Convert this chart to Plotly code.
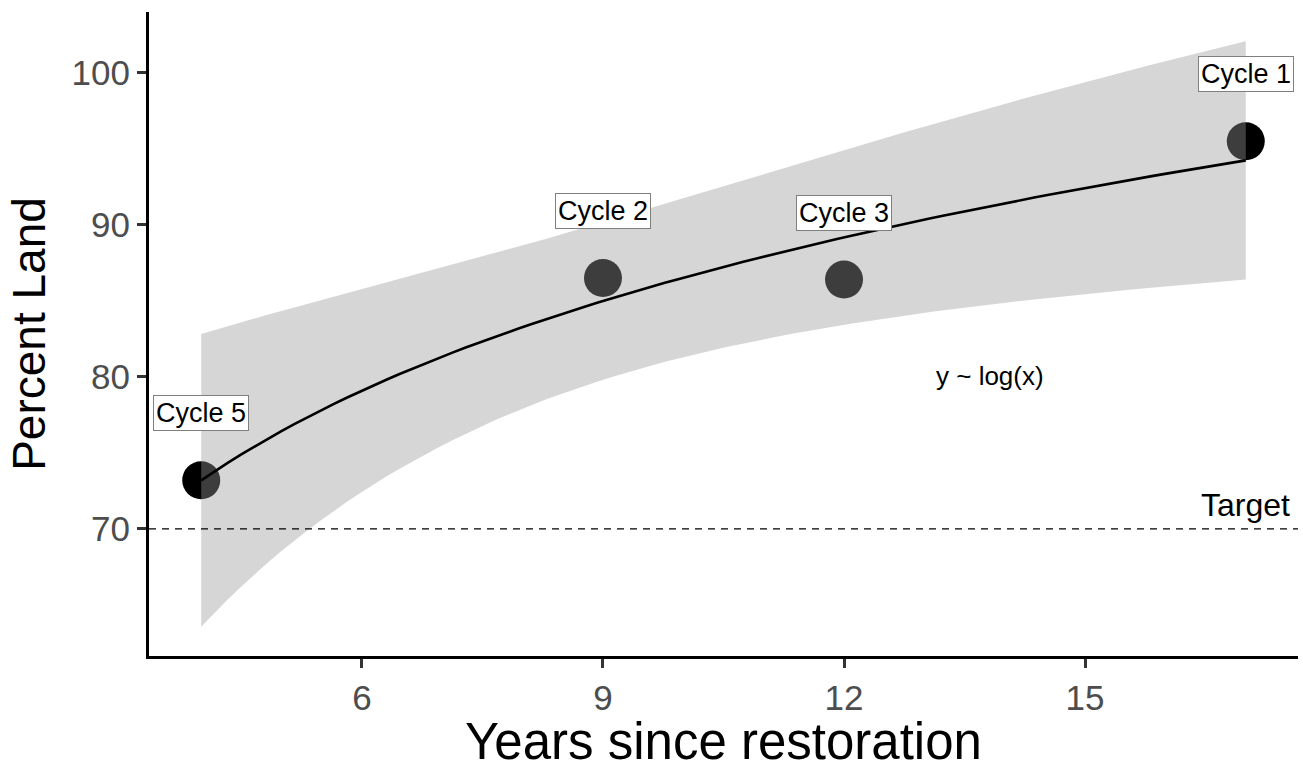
import numpy as np
import plotly.graph_objects as go

# Data
cycles = ["Cycle 5", "Cycle 2", "Cycle 3", "Cycle 1"]
years = [4, 9, 12, 17]
percent_land = [73.2, 86.5, 86.4, 95.5]
target = 70
x_ticks = [6, 9, 12, 15]
y_ticks = [70, 80, 90, 100]

# Linear model y ~ log(x) with 95% confidence band (as ggplot geom_smooth)
xa = np.array(years, dtype=float)
ya = np.array(percent_land, dtype=float)
lx = np.log(xa)
b, a = np.polyfit(lx, ya, 1)
n = len(xa)
resid = ya - (a + b * lx)
s = np.sqrt(np.sum(resid ** 2) / (n - 2))
sxx = np.sum((lx - lx.mean()) ** 2)
t_crit = 4.302653  # t quantile, 0.975, df = 2
xs = np.linspace(xa.min(), xa.max(), 80)
ls = np.log(xs)
fit = a + b * ls
se = s * np.sqrt(1 / n + (ls - lx.mean()) ** 2 / sxx)
lo = fit - t_crit * se
hi = fit + t_crit * se

FONT = "Liberation Sans, Arial, sans-serif"

fig = go.Figure()

# points first (ribbon is drawn over them, as in the original)
fig.add_trace(go.Scatter(
    x=years, y=percent_land, mode="markers",
    marker=dict(size=38, color="black", line=dict(width=0)),
    showlegend=False, hoverinfo="skip"))

# confidence ribbon
fig.add_trace(go.Scatter(
    x=np.concatenate([xs, xs[::-1]]), y=np.concatenate([hi, lo[::-1]]),
    mode="lines", fill="toself", fillcolor="rgba(153,153,153,0.4)",
    line=dict(width=0, color="rgba(0,0,0,0)"),
    showlegend=False, hoverinfo="skip"))

# fitted line
fig.add_trace(go.Scatter(
    x=xs, y=fit, mode="lines", line=dict(color="black", width=2.6),
    showlegend=False, hoverinfo="skip"))

# target line
fig.add_shape(type="line", xref="paper", x0=0, x1=1, yref="y", y0=target, y1=target,
              line=dict(color="black", width=1.2, dash="7px,6px"))

# labels
for c, xv, yv in zip(cycles, years, percent_land):
    fig.add_annotation(x=xv, y=yv + 4.4, text=c, showarrow=False,
                       font=dict(family=FONT, size=27, color="black"),
                       bgcolor="white", bordercolor="#7f7f7f", borderwidth=1, borderpad=2)

fig.add_annotation(x=13.82, y=80.05, text="y ~ log(x)", showarrow=False,
                   font=dict(family=FONT, size=26, color="black"))
fig.add_annotation(x=17.0, y=71.6, text="Target", showarrow=False,
                   font=dict(family=FONT, size=32, color="black"))

# x-axis title (placed like the original, partly below the page edge)
fig.add_annotation(x=0.5, xref="paper", y=-0.1335, yref="paper", yanchor="middle",
                   text="Years since restoration", showarrow=False,
                   font=dict(family=FONT, size=51, color="black"))

fig.update_layout(
    width=1303, height=760,
    margin=dict(l=149, r=5, t=12, b=104),
    paper_bgcolor="white", plot_bgcolor="white",
    font=dict(family=FONT),
    xaxis=dict(range=[3.35, 17.65], tickvals=x_ticks, ticks="outside", ticklen=9,
               tickwidth=3, tickcolor="#333333", showline=True, linecolor="black",
               linewidth=3, showgrid=False, zeroline=False, automargin=False,
               tickfont=dict(size=35, color="#4d4d4d")),
    yaxis=dict(range=[61.64, 104.0], tickvals=y_ticks, ticks="outside", ticklen=9,
               tickwidth=3, tickcolor="#333333", showline=True, linecolor="black",
               linewidth=3, showgrid=False, zeroline=False, automargin=False,
               tickfont=dict(size=35, color="#4d4d4d"),
               title=dict(text="Percent Land", font=dict(size=46, color="black"),
                          standoff=12)),
)

fig.write_html("out.html")
